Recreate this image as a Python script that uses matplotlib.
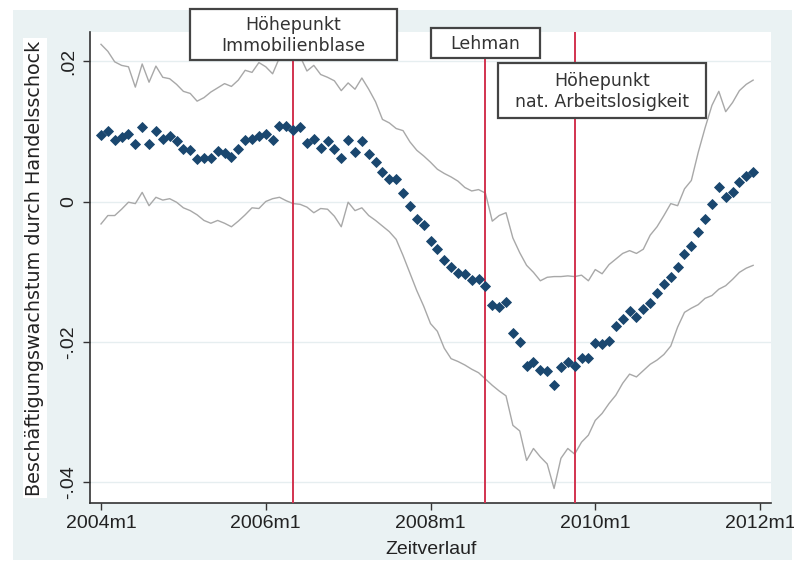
import matplotlib
matplotlib.use("Agg")
import matplotlib.pyplot as plt
from matplotlib import font_manager
from matplotlib.patches import Rectangle
import numpy as np

# ---------------- data ----------------
start_year = 2004
n_months = 96  # 2004m1 .. 2011m12

estimate = [
    0.0095, 0.0100, 0.0087, 0.0092, 0.0096, 0.0082, 0.0106, 0.0082, 0.0101, 0.0089, 0.0093, 0.0086,
    0.0075, 0.0074, 0.0061, 0.0062, 0.0062, 0.0072, 0.0069, 0.0064, 0.0075, 0.0088, 0.0089, 0.0093,
    0.0096, 0.0088, 0.0107, 0.0108, 0.0102, 0.0106, 0.0083, 0.0089, 0.0076, 0.0086, 0.0075, 0.0062,
    0.0088, 0.0070, 0.0086, 0.0067, 0.0057, 0.0042, 0.0032, 0.0032, 0.0012, -0.0007, -0.0025, -0.0034,
    -0.0056, -0.0067, -0.0083, -0.0093, -0.0102, -0.0104, -0.0112, -0.0110, -0.0121, -0.0147, -0.0150, -0.0143,
    -0.0187, -0.0200, -0.0235, -0.0229, -0.0240, -0.0242, -0.0261, -0.0236, -0.0229, -0.0235, -0.0223, -0.0223,
    -0.0202, -0.0203, -0.0199, -0.0178, -0.0167, -0.0156, -0.0164, -0.0153, -0.0145, -0.0131, -0.0118, -0.0107,
    -0.0094, -0.0075, -0.0064, -0.0044, -0.0025, -0.0004, 0.0020, 0.0006, 0.0013, 0.0028, 0.0036, 0.0042,
]

upper_ci = [
    0.0224, 0.0214, 0.0199, 0.0194, 0.0192, 0.0163, 0.0196, 0.0170, 0.0193, 0.0177, 0.0175, 0.0167,
    0.0157, 0.0154, 0.0143, 0.0148, 0.0156, 0.0162, 0.0168, 0.0164, 0.0173, 0.0187, 0.0184, 0.0198,
    0.0192, 0.0182, 0.0205, 0.0225, 0.0222, 0.0207, 0.0186, 0.0194, 0.0181, 0.0177, 0.0172, 0.0158,
    0.0169, 0.0160, 0.0176, 0.0160, 0.0142, 0.0117, 0.0112, 0.0104, 0.0101, 0.0085, 0.0073, 0.0065,
    0.0056, 0.0046, 0.0040, 0.0035, 0.0029, 0.0020, 0.0015, 0.0017, 0.0012, -0.0028, -0.0020, -0.0016,
    -0.0052, -0.0073, -0.0091, -0.0101, -0.0113, -0.0108, -0.0107, -0.0107, -0.0106, -0.0107, -0.0105, -0.0113,
    -0.0097, -0.0103, -0.0090, -0.0082, -0.0074, -0.0070, -0.0074, -0.0068, -0.0048, -0.0036, -0.0020, -0.0003,
    -0.0006, 0.0018, 0.0030, 0.0070, 0.0105, 0.0137, 0.0157, 0.0128, 0.0141, 0.0158, 0.0167, 0.0173,
]

lower_ci = [
    -0.0032, -0.0020, -0.0020, -0.0011, -0.0001, -0.0003, 0.0013, -0.0006, 0.0006, 0.0002, 0.0004, -0.0001,
    -0.0009, -0.0013, -0.0019, -0.0027, -0.0031, -0.0027, -0.0031, -0.0036, -0.0028, -0.0019, -0.0009, -0.0010,
    0.0000, 0.0004, 0.0006, 0.0001, -0.0003, -0.0004, -0.0008, -0.0016, -0.0010, -0.0011, -0.0021, -0.0036,
    -0.0001, -0.0013, -0.0009, -0.0020, -0.0027, -0.0035, -0.0043, -0.0054, -0.0077, -0.0102, -0.0127, -0.0149,
    -0.0174, -0.0185, -0.0209, -0.0224, -0.0228, -0.0233, -0.0239, -0.0244, -0.0253, -0.0262, -0.0270, -0.0277,
    -0.0319, -0.0327, -0.0369, -0.0352, -0.0364, -0.0374, -0.0409, -0.0366, -0.0352, -0.0360, -0.0343, -0.0333,
    -0.0312, -0.0302, -0.0288, -0.0276, -0.0259, -0.0246, -0.0250, -0.0241, -0.0232, -0.0226, -0.0218, -0.0206,
    -0.0179, -0.0158, -0.0152, -0.0147, -0.0138, -0.0134, -0.0125, -0.0120, -0.0111, -0.0101, -0.0095, -0.0091,
]

# events: (month index since 2004m1, label)
event_months = [28, 56, 69]
event_labels = ["Höhepunkt\nImmobilienblase", "Lehman", "Höhepunkt\nnat. Arbeitslosigkeit"]

xtick_months = [0, 24, 48, 72, 96]
xtick_labels = ["2004m1", "2006m1", "2008m1", "2010m1", "2012m1"]
ytick_values = [0.02, 0.0, -0.02, -0.04]
ytick_labels = [".02", "0", "-.02", "-.04"]

xlabel = "Zeitverlauf"
ylabel = "Beschäftigungswachstum durch Handelsschock"

# ---------------- fonts ----------------
available = {f.name for f in font_manager.fontManager.ttflist}
narrow = "Liberation Sans Narrow" if "Liberation Sans Narrow" in available else "Liberation Sans"
narrow_stretch = "normal" if narrow == "Liberation Sans Narrow" else "condensed"

# ---------------- figure ----------------
W, H = 794, 567
fig = plt.figure(figsize=(W / 100, H / 100), dpi=100, facecolor="white")

def fx(px):
    return px / W

def fy(py):
    return 1 - py / H

# graph region (light blue)
fig.patches.append(Rectangle((fx(13), fy(560)), fx(792) - fx(13), fy(10) - fy(560),
                             transform=fig.transFigure, facecolor="#eaf2f3",
                             edgecolor="none", zorder=-10))

ax_l, ax_r, ax_t, ax_b = 90, 771, 32, 503
ax = fig.add_axes([fx(ax_l), fy(ax_b), fx(ax_r) - fx(ax_l), fy(ax_t) - fy(ax_b)])
ax.set_facecolor("white")

months = np.arange(n_months)
ax.plot(months, upper_ci, color="#a8a8a8", lw=1.0, zorder=2)
ax.plot(months, lower_ci, color="#a8a8a8", lw=1.0, zorder=2)
ax.plot(months, estimate, linestyle="none", marker="D", ms=4.8,
        color="#1a476f", markeredgecolor="#1a476f", markeredgewidth=0.6, zorder=4)

for m in event_months:
    ax.axvline(m, color="#d2334f", lw=1.4, zorder=3)

ppm = (760 - 101) / 96.0  # pixels per month
ax.set_xlim(-(101 - ax_l) / ppm, 96 + (ax_r - 760) / ppm)
ppu = (481.7 - 60.7) / 0.06  # pixels per unit
y0 = 201.5
ax.set_ylim(-(ax_b - y0) / ppu, (y0 - ax_t) / ppu)

for v in ytick_values:
    ax.axhline(v, color="#e6eef0", lw=1.0, zorder=1)

ax.set_xticks(xtick_months)
ax.set_xticklabels(xtick_labels, fontsize=14, family=narrow, fontstretch=narrow_stretch, color="#222222")
ax.set_yticks(ytick_values)
ax.set_yticklabels(ytick_labels, fontsize=14, family=narrow, fontstretch=narrow_stretch,
                   rotation=90, va="center", color="#222222")
ax.tick_params(axis="both", direction="out", length=5, width=1.0, color="#333333")
ax.tick_params(axis="x", pad=4)
ax.tick_params(axis="y", pad=4)

for s in ["top", "right"]:
    ax.spines[s].set_visible(False)
for s in ["left", "bottom"]:
    ax.spines[s].set_color("#333333")
    ax.spines[s].set_linewidth(1.2)

fig.text(fx(431), fy(549), xlabel, ha="center", va="center", fontsize=14,
         family=narrow, fontstretch=narrow_stretch, color="#222222")
fig.text(fx(35), fy(268), ylabel, ha="center", va="center", rotation=90,
         fontsize=13.8, family="DejaVu Sans", color="#222222",
         bbox=dict(facecolor="white", edgecolor="none", pad=1.5))

# annotation boxes (pixel layout)
boxes = [(190, 9, 397, 60), (431, 28, 540, 58), (498, 63, 706, 118)]
for (x0, y0b, x1, y1), lab in zip(boxes, event_labels):
    fig.patches.append(Rectangle((fx(x0), fy(y1)), fx(x1) - fx(x0), fy(y0b) - fy(y1),
                                 transform=fig.transFigure, facecolor="white",
                                 edgecolor="#444444", lw=1.6, zorder=5))
    fig.text(fx((x0 + x1) / 2), fy((y0b + y1) / 2 + 1), lab, ha="center", va="center",
             fontsize=12.5, family="DejaVu Sans", color="#333333", linespacing=1.15, zorder=6)

fig.savefig("out.png", dpi=100, facecolor=fig.get_facecolor())
